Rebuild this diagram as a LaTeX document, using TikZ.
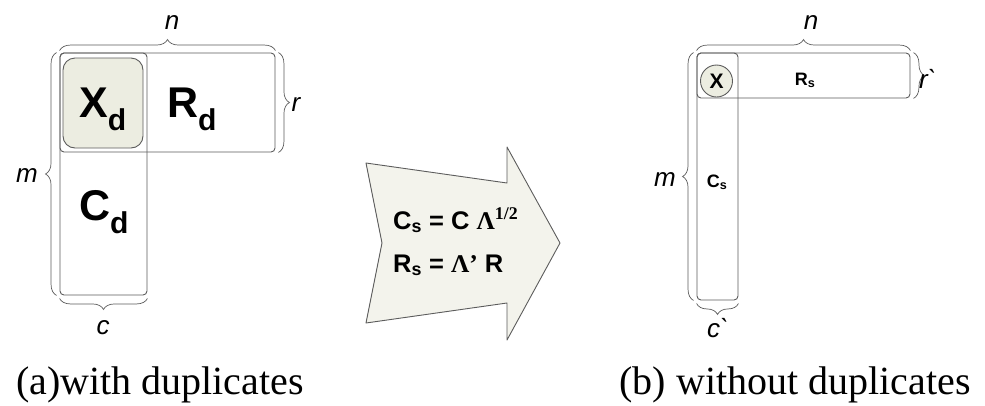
\documentclass[tikz,border=0pt]{standalone}
\usepackage{fontspec}
\setmainfont{Liberation Serif}
\setsansfont{Liberation Sans}
\usetikzlibrary{decorations.pathreplacing}
\definecolor{SkGray}{HTML}{5C5C5C}
\definecolor{SkFill}{HTML}{ECEDE1}
\definecolor{SkArrow}{HTML}{F3F3EC}
\tikzset{
  block/.style={draw=SkGray,line width=0.9pt,rounded corners=4pt,inner sep=0pt},
  xcell/.style={block,fill=SkFill,rounded corners=12pt},
  xdot/.style={draw=SkGray,line width=0.9pt,fill=SkFill,circle,inner sep=0pt,minimum size=32pt},
  dimbrace/.style={draw=SkGray,line width=0.7pt,decorate,decoration={brace,amplitude=11pt}},
  dimlabel/.style={font=\sffamily\itshape\fontsize{26}{28}\selectfont,inner sep=0pt},
  biglabel/.style={font=\sffamily\bfseries\fontsize{43}{50}\selectfont,inner sep=0pt,anchor=base},
  smalllabel/.style={font=\sffamily\bfseries\fontsize{18}{20}\selectfont,inner sep=0pt,anchor=base},
  eqlabel/.style={font=\sffamily\bfseries\fontsize{25.5}{28}\selectfont,inner sep=0pt,anchor=base west},
  caption/.style={font=\fontsize{40}{44}\selectfont,inner sep=0pt,anchor=base},
}
\newcommand{\lam}{{\rmfamily\bfseries Λ}}

\begin{document}
\begin{tikzpicture}[x=1pt,y=-1pt]
  \useasboundingbox (0,0) rectangle (985,405);

  % (a) with duplicates
  \node[block,minimum width=215pt,minimum height=99pt] (rowD) at (167.5,102.5) {};
  \node[block,minimum width=87pt,minimum height=242pt] (colD) at (103.5,174) {};
  \node[xcell,minimum width=80pt,minimum height=90pt] (xD) at (103,103) {};
  \node[biglabel] (xDtext) at (103,117) {X\textsubscript{d}};
  \node[biglabel] (rDtext) at (192,117) {R\textsubscript{d}};
  \node[biglabel] (cDtext) at (104,220) {C\textsubscript{d}};

  \draw[dimbrace] ([yshift=2pt]rowD.north west) -- ([yshift=2pt]rowD.north east);
  \draw[dimbrace] ([xshift=3pt]rowD.north east) -- ([xshift=3pt]rowD.south east);
  \draw[dimbrace] ([xshift=-3pt]colD.south west) -- ([xshift=-3pt]colD.north west);
  \draw[dimbrace] ([yshift=-3pt]colD.south east) -- ([yshift=-3pt]colD.south west);
  \node[dimlabel] (nD) at (172,23) {n};
  \node[dimlabel] (rD) at (296,105) {r};
  \node[dimlabel] (mD) at (27,176) {m};
  \node[dimlabel] (cD) at (103,328) {c};

  % transformation arrow
  \draw[draw=SkGray,line width=0.9pt,fill=SkArrow,line join=round]
    (366,163) -- (507,183) -- (507,147) -- (560,243) -- (507,340)
    -- (507,303) -- (366,323) -- (382,243) -- cycle;
  \node[eqlabel] (eqC) at (393,229) {C\textsubscript{s} = C \lam\textsuperscript{\rmfamily 1/2}};
  \node[eqlabel] (eqR) at (393,272) {R\textsubscript{s} = \lam{\rmfamily’} R};

  % (b) without duplicates
  \node[block,minimum width=213pt,minimum height=45pt] (rowS) at (803.5,75.5) {};
  \node[block,minimum width=41pt,minimum height=247pt] (colS) at (717.5,176.5) {};
  \node[xdot] (xS) at (716.5,81) {};
  \node[font=\sffamily\bfseries\fontsize{21}{24}\selectfont,inner sep=0pt,anchor=base] (xStext) at (716.5,88) {X};
  \node[smalllabel] (rStext) at (805,85) {R\textsubscript{s}};
  \node[smalllabel] (cStext) at (717,187) {C\textsubscript{s}};

  \draw[dimbrace] ([yshift=2pt]rowS.north west) -- ([yshift=2pt]rowS.north east);
  \draw[dimbrace] ([xshift=3pt]rowS.north east) -- ([xshift=3pt]rowS.south east);
  \draw[dimbrace] ([xshift=-3pt]colS.south west) -- ([xshift=-3pt]colS.north west);
  \draw[dimbrace] ([yshift=-3pt]colS.south east) -- ([yshift=-3pt]colS.south west);
  \node[dimlabel] (nS) at (811,23) {n};
  \node[dimlabel,anchor=west] (rS) at (919,79) {r\textasciigrave};
  \node[dimlabel] (mS) at (665,180) {m};
  \node[dimlabel,anchor=west] (cS) at (707,328) {c\textasciigrave};

  % captions
  \node[caption] (capA) at (160,394) {(a)with duplicates};
  \node[caption] (capB) at (795,394) {(b) without duplicates};
\end{tikzpicture}
\end{document}
